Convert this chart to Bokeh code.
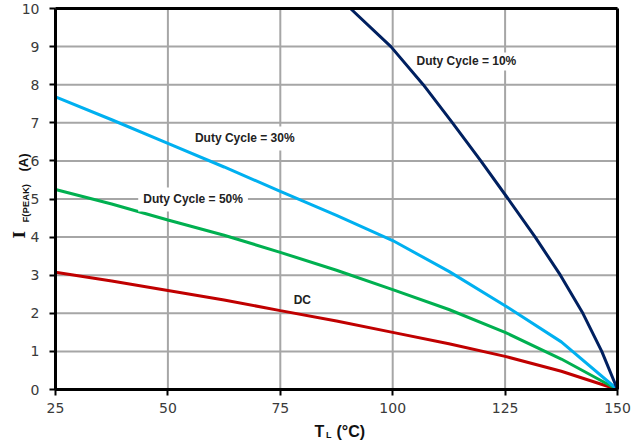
from bokeh.plotting import figure
from bokeh.models import Range1d, Label, FixedTicker, LinearAxis
from bokeh.embed import file_html
from bokeh.resources import INLINE
import math

# ---- data ----
temp = [25, 37.5, 50, 62.5, 75, 87.5, 100, 112.5, 125, 137.5, 150]
dc = [3.08, 2.85, 2.6, 2.35, 2.07, 1.8, 1.5, 1.2, 0.87, 0.48, 0.0]
duty50 = [5.25, 4.87, 4.45, 4.05, 3.6, 3.13, 2.62, 2.1, 1.5, 0.8, 0.0]
duty30 = [7.68, 7.08, 6.46, 5.84, 5.2, 4.57, 3.91, 3.1, 2.2, 1.25, 0.0]
temp10 = [90.6, 99.6, 106.8, 113.3, 119.6, 125.7, 131.7, 137.3, 142.3, 146.5, 150]
duty10 = [10, 9, 8, 7, 6, 5, 4, 3, 2, 1, 0]

x_ticks = [25, 50, 75, 100, 125, 150]
y_ticks = [0, 1, 2, 3, 4, 5, 6, 7, 8, 9, 10]
X_MIN, X_MAX = 25, 150
Y_MIN, Y_MAX = 0, 10

# canvas geometry: chart area spans px 55..617 (x) and 8..389 (y) of a 632x440 canvas
W, H = 632, 440
L_PX, R_PX, T_PX, B_PX = 55, 617, 8, 389
sx = (R_PX - L_PX) / (X_MAX - X_MIN)
sy = (B_PX - T_PX) / (Y_MAX - Y_MIN)
x_range = Range1d(X_MIN - L_PX / sx, X_MIN + (W - L_PX) / sx)
y_range = Range1d(Y_MIN - (H - B_PX) / sy, Y_MAX + T_PX / sy)

p = figure(width=W, height=H, output_backend="svg", toolbar_location=None,
           x_range=x_range, y_range=y_range, min_border=0,
           x_axis_location="below", y_axis_location="left")
p.background_fill_color = "white"
p.border_fill_color = "white"
p.outline_line_color = None
p.xgrid.visible = False
p.ygrid.visible = False

# grid lines at the tick positions
p.segment(x0=x_ticks, x1=x_ticks, y0=[Y_MIN] * len(x_ticks), y1=[Y_MAX] * len(x_ticks),
          line_color="#a6a6a6", line_width=2)
p.segment(x0=[X_MIN] * len(y_ticks), x1=[X_MAX] * len(y_ticks), y0=y_ticks, y1=y_ticks,
          line_color="#a6a6a6", line_width=2)

p.xaxis.fixed_location = Y_MIN
p.yaxis.fixed_location = X_MIN
p.xaxis.bounds = (X_MIN, X_MAX)
p.yaxis.bounds = (Y_MIN, Y_MAX)
p.xaxis.ticker = FixedTicker(ticks=x_ticks)
p.yaxis.ticker = FixedTicker(ticks=y_ticks)
for ax in (p.xaxis, p.yaxis):
    ax.axis_line_color = "black"
    ax.axis_line_width = 3
    ax.major_tick_line_color = "black"
    ax.major_tick_line_width = 2
    ax.major_tick_out = 6
    ax.major_tick_in = 0
    ax.minor_tick_line_color = None
    ax.major_label_text_font = "DejaVu Sans"
    ax.major_label_text_font_size = "14px"
    ax.major_label_text_color = "#3a3a3a"
p.xaxis.major_label_standoff = 7
p.yaxis.major_label_standoff = 10

# top and right border of the chart area
top_ax = LinearAxis(fixed_location=Y_MAX, bounds=(X_MIN, X_MAX), ticker=FixedTicker(ticks=[]),
                    axis_line_width=3, axis_line_color="black", major_tick_line_color=None,
                    minor_tick_line_color=None, major_label_text_font_size="0px")
right_ax = LinearAxis(fixed_location=X_MAX, bounds=(Y_MIN, Y_MAX), ticker=FixedTicker(ticks=[]),
                      axis_line_width=3, axis_line_color="black", major_tick_line_color=None,
                      minor_tick_line_color=None, major_label_text_font_size="0px")
p.add_layout(top_ax, "above")
p.add_layout(right_ax, "right")

p.line(temp, dc, line_color="#C00000", line_width=3)
p.line(temp, duty50, line_color="#00B050", line_width=3)
p.line(temp, duty30, line_color="#00B0F0", line_width=3)
p.line(temp10, duty10, line_color="#002060", line_width=3)

lab_font = "Liberation Sans"
def curve_label(x, y, txt, pad=5):
    lb = Label(x=x, y=y, text=txt, text_font=lab_font, text_font_style="bold",
               text_font_size="12px", text_color="#222222",
               text_align="center", text_baseline="middle",
               background_fill_color="white", padding=pad)
    p.add_layout(lb)

curve_label(116.4, 8.61, "Duty Cycle = 10%", pad=2)
curve_label(67.1, 6.59, "Duty Cycle = 30%")
curve_label(55.6, 4.99, "Duty Cycle = 50%")
curve_label(79.9, 2.36, "DC", pad=2)

def px_to_x(px):
    return X_MIN + (px - L_PX) / sx

def py_to_y(py):
    return Y_MIN + (B_PX - py) / sy

# x axis title: T_L (°C)
p.add_layout(Label(x=px_to_x(314), y=py_to_y(431), text="T", text_font=lab_font,
                   text_font_style="bold", text_font_size="16px", text_color="#111111",
                   text_align="left", text_baseline="alphabetic"))
p.add_layout(Label(x=px_to_x(325.5), y=py_to_y(434.5), text="L", text_font=lab_font,
                   text_font_style="bold", text_font_size="9px", text_color="#111111",
                   text_align="left", text_baseline="alphabetic"))
p.add_layout(Label(x=px_to_x(336), y=py_to_y(431), text="(°C)", text_font=lab_font,
                   text_font_style="bold", text_font_size="16px", text_color="#111111",
                   text_align="left", text_baseline="alphabetic"))

# y axis title: I_F(PEAK) (A), rotated (reads bottom to top)
p.add_layout(Label(x=px_to_x(19), y=py_to_y(238), text="I", text_font="DejaVu Serif",
                   text_font_style="bold", text_font_size="16px", text_color="#111111",
                   angle=math.pi / 2, text_align="left", text_baseline="middle"))
p.add_layout(Label(x=px_to_x(24.5), y=py_to_y(222), text="F(PEAK)", text_font=lab_font,
                   text_font_style="bold", text_font_size="9.5px", text_color="#111111",
                   angle=math.pi / 2, text_align="left", text_baseline="middle"))
p.add_layout(Label(x=px_to_x(22.5), y=py_to_y(171), text="(A)", text_font=lab_font,
                   text_font_style="bold", text_font_size="13px", text_color="#111111",
                   angle=math.pi / 2, text_align="left", text_baseline="middle"))

open("out.html", "w").write(file_html(p, INLINE))
